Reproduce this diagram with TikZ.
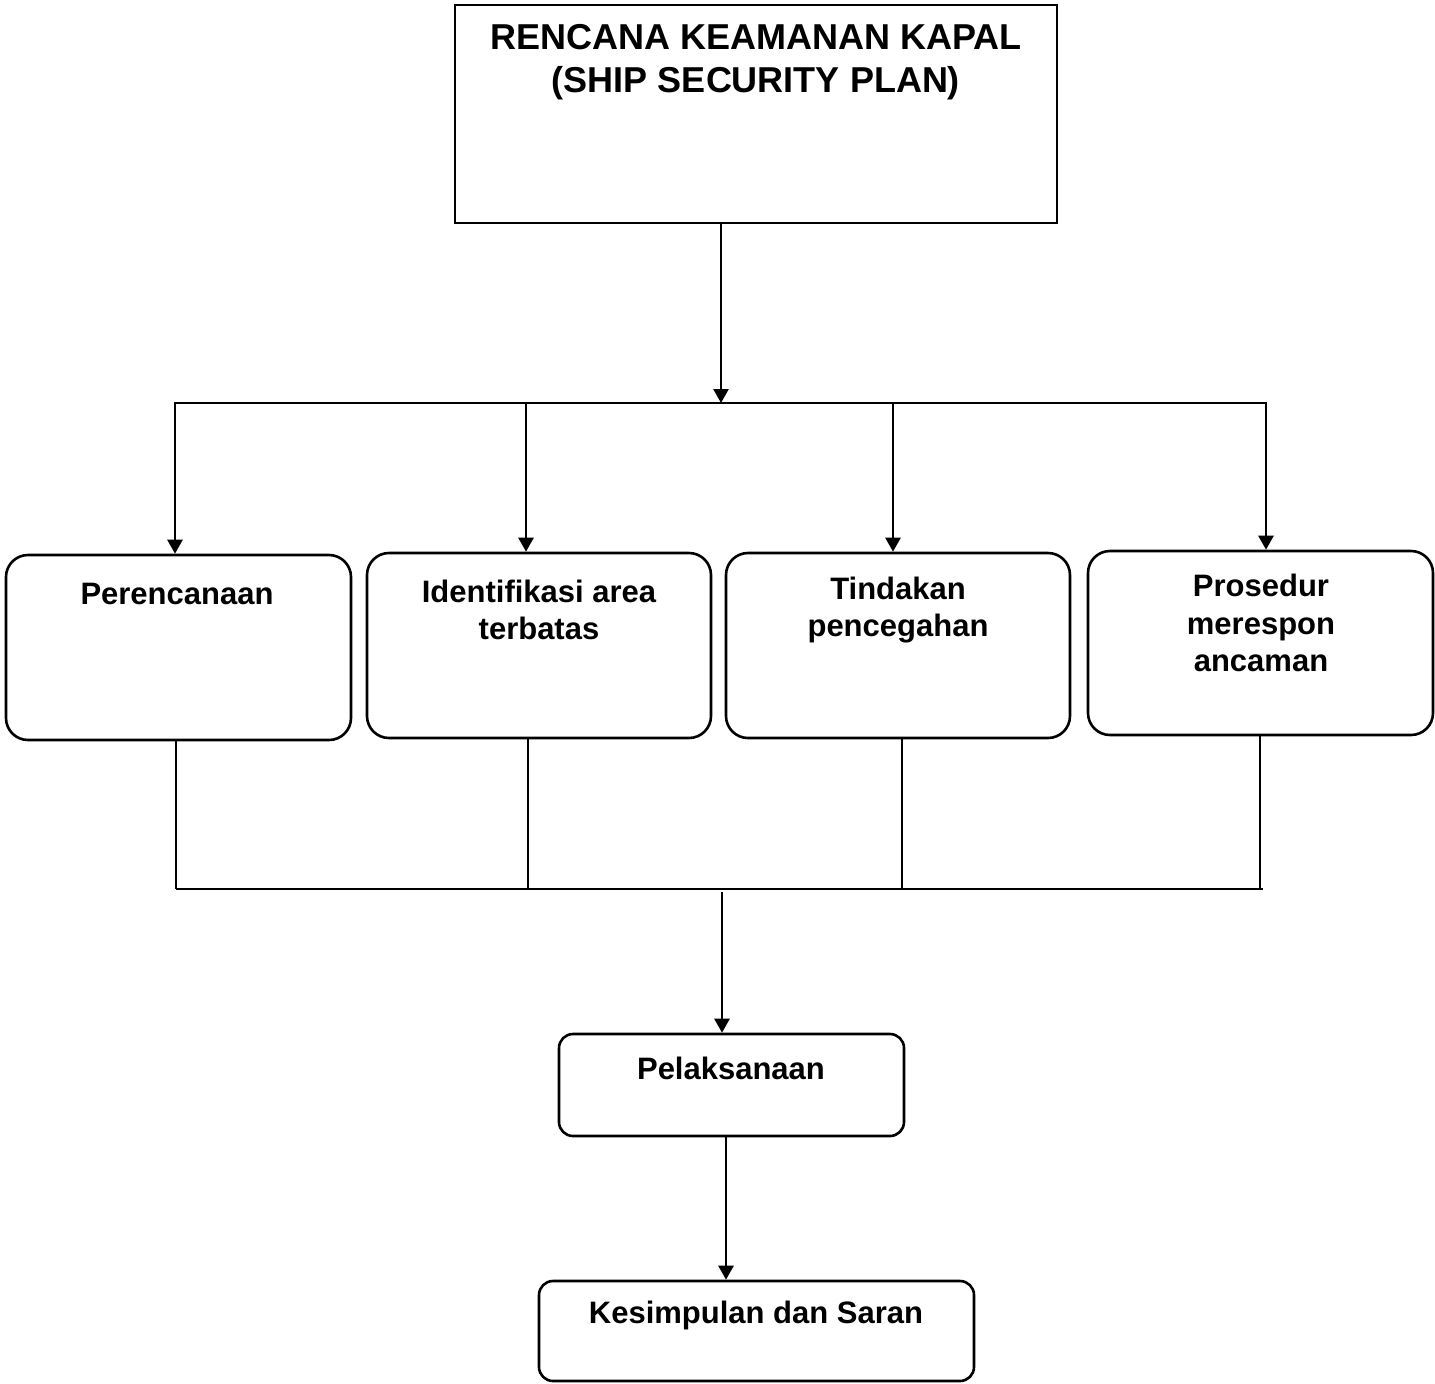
\documentclass[tikz,border=0pt]{standalone}
\usepackage{fontspec}
\setmainfont{Liberation Sans}
\usetikzlibrary{arrows.meta}
\begin{document}
\begin{tikzpicture}[x=0.5pt,y=-0.5pt,
  sbox/.style={draw, line width=1.3pt, inner sep=0pt},
  rbox/.style={draw, line width=1.3pt, rounded corners=11pt, inner sep=0pt},
  sbox2/.style={draw, line width=1.3pt, rounded corners=7pt, inner sep=0pt},
  lbl/.style={font=\bfseries\fontsize{15.5}{18.8}\selectfont, align=center, inner sep=0pt},
  ttl/.style={font=\bfseries\fontsize{18}{21.5}\selectfont, align=center, inner sep=0pt},
  conn/.style={line width=1.3pt},
  arr/.style={-{Triangle[width=7.5pt,length=7pt]}, line width=1.3pt}]
\useasboundingbox (0,0) rectangle (1435,1383);
% boxes
\node[sbox, minimum width=301pt, minimum height=109pt] (top) at (756,114) {};
\node[rbox, minimum width=172.5pt, minimum height=92.5pt] (b1) at (178.5,647.5) {};
\node[rbox, minimum width=172pt, minimum height=92.5pt] (b2) at (539,645.5) {};
\node[rbox, minimum width=172pt, minimum height=92.5pt] (b3) at (898,645.5) {};
\node[rbox, minimum width=172.5pt, minimum height=92pt] (b4) at (1260.5,643) {};
\node[sbox2, minimum width=172.5pt, minimum height=51pt] (b5) at (731.5,1085) {};
\node[sbox2, minimum width=217.5pt, minimum height=50pt] (b6) at (756.5,1331) {};
% texts
\node[ttl] (ttop) at (756,62) {RENCANA KEAMANAN KAPAL\\(SHIP SECURITY PLAN)};
\node[lbl] (t1) at (177,594) {Perencanaan};
\node[lbl] (t2) at (539,610) {Identifikasi area\\terbatas};
\node[lbl] (t3) at (898,610) {Tindakan\\pencegahan};
\node[lbl] (t4) at (1261,623) {Prosedur\\merespon\\ancaman};
\node[lbl] (t5) at (731,1068) {Pelaksanaan};
\node[lbl] (t6) at (756,1315) {Kesimpulan dan Saran};
% upper distribution
\coordinate (t0) at (721,223);
\coordinate (j0) at (721,403);
\coordinate (hL) at (174,403);
\coordinate (hR) at (1267,403);
\draw[arr] (t0) -- (j0);
\draw[conn] (hL) -- (hR);
\coordinate (d1) at (175,403);
\coordinate (d2) at (526,403);
\coordinate (d3) at (893,403);
\coordinate (d4) at (1266,403);
\draw[arr] (d1) -- (d1 |- b1.north);
\draw[arr] (d2) -- (d2 |- b2.north);
\draw[arr] (d3) -- (d3 |- b3.north);
\draw[arr] (d4) -- (d4 |- b4.north);
% lower collection
\coordinate (u1) at (176,889);
\coordinate (u2) at (528,889);
\coordinate (u3) at (902,889);
\coordinate (u4) at (1260,889);
\draw[conn] (u1 |- b1.south) -- (u1);
\draw[conn] (u2 |- b2.south) -- (u2);
\draw[conn] (u3 |- b3.south) -- (u3);
\draw[conn] (u4 |- b4.south) -- (u4);
\coordinate (gL) at (176,889);
\coordinate (gR) at (1263,889);
\draw[conn] (gL) -- (gR);
\coordinate (g0) at (722,892);
\draw[arr] (g0) -- (g0 |- b5.north);
\coordinate (k0) at (726,1138);
\draw[arr] (k0 |- b5.south) -- (k0 |- b6.north);
\end{tikzpicture}
\end{document}
